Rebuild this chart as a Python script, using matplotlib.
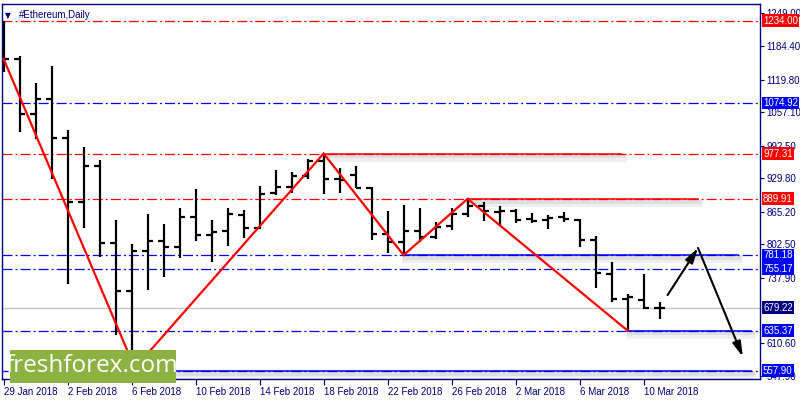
import matplotlib
matplotlib.use("Agg")
import matplotlib.pyplot as plt
import matplotlib.patheffects as pe
from matplotlib.patches import Rectangle

# ---------------- data ----------------
opens  = [1180, 1159, 1053, 1083, 1007, 883, 954, 804, 711, 790, 809, 797, 855, 820,
          828, 859, 834, 901, 913, 933, 962, 928, 936, 911, 821, 806, 828, 817, 838,
          861, 876, 865, 866, 851, 849, 855, 849, 810, 745, 697, 695, 680]
highs  = [1234, 1166, 1114, 1146, 1023, 990, 965, 849, 802, 860, 841, 873, 908, 849,
          872, 868, 914, 946, 941, 966, 977.31, 949, 953, 912, 866, 878, 872, 846, 873,
          889.91, 884, 876, 870, 862, 859, 865, 850, 818, 768, 707, 745, 691]
lows   = [1135, 1019, 1005, 929, 725, 833, 777, 627, 575, 713, 738, 775, 809, 768,
          799, 814, 832, 897, 902, 929, 899, 902, 910, 810, 785, 781.18, 807, 812, 830,
          854, 848, 839, 843, 843, 831, 846, 796, 717, 691, 635.37, 678, 657]
closes = [1159, 1053, 1083, 1007, 883, 954, 804, 711, 789, 809, 797, 855, 820, 826,
          860, 834, 899, 912, 933, 963, 928, 926, 911, 821, 806, 828, 816, 835, 861,
          876, 867, 866, 849, 848, 852, 850, 810, 746, 696, 700, 680, 679.22]

tick_pos = [0, 4, 8, 12, 16, 20, 24, 28, 32, 36, 40]
tick_labels = ["29 Jan 2018", "2 Feb 2018", "6 Feb 2018", "10 Feb 2018", "14 Feb 2018",
               "18 Feb 2018", "22 Feb 2018", "26 Feb 2018", "2 Mar 2018", "6 Mar 2018",
               "10 Mar 2018"]

ytick_vals = [1249.00, 1184.40, 1119.80, 1057.10, 992.50, 929.80, 865.20, 802.50,
              737.90, 610.60, 547.90]

level_vals   = [1234.00, 1074.92, 977.31, 889.91, 781.18, 755.17, 635.37, 557.90]
level_colors = ["#FF0000", "#0000FF", "#FF0000", "#FF0000", "#0000FF", "#0000FF",
                "#0000FF", "#0000FF"]
last_price = 679.22

# horizontal solid support/resistance segments: start idx, end idx, value, colour
seg_start = [20, 29, 25, 39, 8]
seg_end   = [38.6, 43.4, 45.9, 46.7, 46.7]
seg_val   = [977.31, 889.91, 781.18, 635.37, 557.90]
seg_col   = ["#FF0000", "#FF0000", "#0000FF", "#0000FF", "#0000FF"]

# red zig-zag trend lines
trend_x = [0, 8.2, 20, 25, 29, 39]
trend_y = [1160, 563, 977.31, 781.18, 889.91, 635.37]

# forecast arrows
arrow_x = [41.5, 43.4, 46.2]
arrow_y = [704, 795, 585]

NAVY = "#000080"
FONT = "Liberation Sans"

# ---------------- figure ----------------
plt.rcParams['lines.scale_dashes'] = False
plt.rcParams['font.family'] = [FONT, "DejaVu Sans"]
fig = plt.figure(figsize=(8, 4), dpi=100)
ax = fig.add_axes([2/800, 21/400, 758/800, 375/400])
ax.set_xlim(-0.1, 47.275)
ax.set_ylim(542, 1266)

dashdot = (0, (7.2, 2.2, 1.4, 2.2))

# last price line
ax.axhline(last_price, color="#C8C8C8", lw=1.0, zorder=1)

# level lines
for v, c in zip(level_vals, level_colors):
    ax.axhline(v, color=c, lw=0.9, linestyle=dashdot, zorder=2)

# solid segments with soft shadow
shadow = [pe.SimpleLineShadow(offset=(1.0, -3.0), shadow_color="black", alpha=0.06, linewidth=5),
          pe.SimpleLineShadow(offset=(1.0, -2.0), shadow_color="black", alpha=0.07, linewidth=3),
          pe.Normal()]
for s, e, v, c in zip(seg_start, seg_end, seg_val, seg_col):
    ax.plot([s, e], [v, v], color=c, lw=1.1, zorder=3, path_effects=shadow)

# OHLC bars
n = len(opens)
xs = list(range(n))
tick_w = 0.33
ax.vlines(xs, lows, highs, color="black", lw=1.6, zorder=5)
ax.hlines(opens, [x - tick_w for x in xs], xs, color="black", lw=1.6, zorder=5)
ax.hlines(closes, xs, [x + tick_w for x in xs], color="black", lw=1.6, zorder=5)

# trend lines
ax.plot(trend_x, trend_y, color="#FF0000", lw=1.6, zorder=6, solid_joinstyle="miter")

# arrows
for i in range(len(arrow_x) - 1):
    ax.annotate("", xy=(arrow_x[i + 1], arrow_y[i + 1]), xytext=(arrow_x[i], arrow_y[i]),
                arrowprops=dict(arrowstyle="-|>,head_length=0.9,head_width=0.25",
                                color="black", lw=1.5, shrinkA=0, shrinkB=0),
                zorder=7)

# axes styling
for sp in ax.spines.values():
    sp.set_color(NAVY)
    sp.set_linewidth(1.0)
ax.yaxis.tick_right()
ax.set_yticks(ytick_vals)
ax.set_yticklabels([f"{v:.2f}" for v in ytick_vals])
ax.tick_params(axis="y", direction="out", length=3, width=0.8, color=NAVY,
               labelcolor=NAVY, labelsize=7, pad=1.5)
ax.set_xticks(tick_pos)
ax.set_xticklabels(tick_labels)
ax.tick_params(axis="x", direction="out", length=4, width=0.8, color=NAVY,
               labelcolor=NAVY, labelsize=7, pad=1.5)
for lbl in ax.get_xticklabels():
    lbl.set_horizontalalignment("left")

# coloured level labels on right axis
ytr = ax.get_yaxis_transform()
box_vals = level_vals + [last_price]
box_cols = level_colors + [NAVY]
for v, c in zip(box_vals, box_cols):
    ax.text(1.004, v, f"{v:.2f}", transform=ytr, ha="left", va="center",
            fontsize=7, color="white", zorder=10, clip_on=False,
            bbox=dict(boxstyle="square,pad=0.15", fc=c, ec="none"))

# title
ax.text(0.004, 0.982, "\u25BC", transform=ax.transAxes, fontsize=5.5, color=NAVY,
        ha="left", va="top", family="DejaVu Sans")
ax.text(0.022, 0.985, "#Ethereum,Daily", transform=ax.transAxes, fontsize=7,
        color=NAVY, ha="left", va="top")

# logo
fig.patches.append(Rectangle((10/800, 17/400), 166/800, 33/400, transform=fig.transFigure,
                             fc="#8DB241", ec="none", zorder=20))
fig.text(92/800, 33.5/400, "freshforex.com", fontsize=17.5, color="white",
         family="Open Sans", ha="center", va="center", zorder=21)

fig.savefig("out.png", dpi=100)
